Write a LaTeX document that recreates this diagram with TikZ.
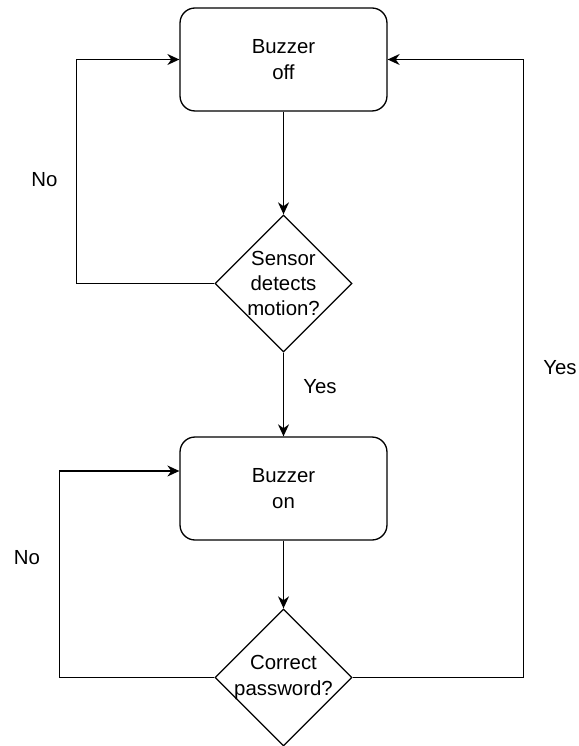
\documentclass[tikz,border=0pt]{standalone}
\usepackage{fontspec}
\setmainfont{Liberation Sans}
\usetikzlibrary{shapes.geometric,arrows.meta}

\tikzset{
  flowbox/.style={draw,rounded corners=0.3cm,minimum width=4.14cm,minimum height=2.06cm,align=center,line width=0.75pt},
  decision/.style={draw,diamond,minimum width=2.74cm,minimum height=2.74cm,inner sep=0pt,line width=0.75pt},
  flowarrow/.style={-{Stealth[length=2.4mm,width=2.2mm]},line width=0.75pt},
}

\begin{document}
\begin{tikzpicture}[x=0.02cm,y=-0.02cm,font=\fontsize{11.6}{14.5}\selectfont]
        \useasboundingbox (0,0) rectangle (578,746);
        % buzzer states
        \node[flowbox] (off) at (283.5,59.5) {Buzzer\\off};
        \node[flowbox] (on) at (283.5,488.5) {Buzzer\\on};
        % decisions
        \node[decision] (sensor) at (283.5,283.5) {};
        \node[align=center] (sensortxt) at (sensor) {Sensor\\detects\\motion?};
        \node[decision] (pass) at (283.5,677.5) {};
        \node[align=center] (passtxt) at (pass) {Correct\\password?};
        % main flow
        \draw[flowarrow] (off) -- (sensor);
        \draw[flowarrow] (sensor) -- (on);
        \draw[flowarrow] (on) -- (pass);
        % loops back
        \draw[flowarrow] (sensor.west) -- ++(-138,0) |- (off.west);
        \draw[flowarrow] (pass.west) -- ++(-155,0) |- ([yshift=0.35cm]on.west);
        \draw[flowarrow] (pass.east) -- ++(171,0) |- (off.east);
        % labels
        \node (no1) at (44.5,180) {No};
        \node (no2) at (27,558) {No};
        \node (yes1) at (320,387) {Yes};
        \node (yes2) at (560,368) {Yes};
    \end{tikzpicture}
\end{document}
